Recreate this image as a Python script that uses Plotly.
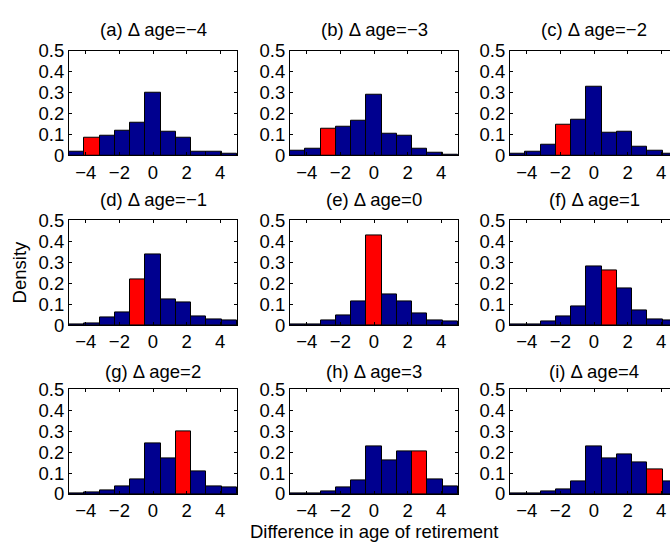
import plotly.graph_objects as go

W, H = 670, 554

# Difference in age of retirement (bin values)
diff_values = [-5, -4, -3, -2, -1, 0, 1, 2, 3, 4, 5]
delta_ages = [-4, -3, -2, -1, 0, 1, 2, 3, 4]
panel_letters = ["a", "b", "c", "d", "e", "f", "g", "h", "i"]

dens_a = [0.018, 0.082, 0.095, 0.118, 0.158, 0.300, 0.115, 0.085, 0.018, 0.018, 0.006]
dens_b = [0.022, 0.031, 0.128, 0.135, 0.165, 0.288, 0.105, 0.094, 0.031, 0.012, 0.005]
dens_c = [0.008, 0.017, 0.052, 0.148, 0.169, 0.326, 0.109, 0.112, 0.043, 0.020, 0.008]
dens_d = [0.005, 0.009, 0.035, 0.062, 0.219, 0.336, 0.122, 0.108, 0.043, 0.025, 0.020]
dens_e = [0.005, 0.005, 0.023, 0.048, 0.113, 0.430, 0.148, 0.113, 0.056, 0.022, 0.017]
dens_f = [0.003, 0.005, 0.015, 0.040, 0.088, 0.282, 0.262, 0.177, 0.070, 0.025, 0.020]
dens_g = [0.003, 0.008, 0.015, 0.035, 0.072, 0.241, 0.171, 0.299, 0.107, 0.034, 0.030]
dens_h = [0.002, 0.005, 0.012, 0.030, 0.067, 0.226, 0.159, 0.204, 0.203, 0.069, 0.035]
dens_i = [0.002, 0.003, 0.011, 0.024, 0.061, 0.226, 0.171, 0.190, 0.149, 0.116, 0.058]
densities = [dens_a, dens_b, dens_c, dens_d, dens_e, dens_f, dens_g, dens_h, dens_i]

x_ticks = [-4, -2, 0, 2, 4]
y_ticks = [0, 0.1, 0.2, 0.3, 0.4, 0.5]

BLUE = "#00008F"
RED = "#FF0000"
FONT = "Liberation Sans, Arial, Helvetica, sans-serif"
FS = 18.5

# histogram bins: 11 equal bins spanning [-5, 5]
nb = len(diff_values)
bw = 10.0 / nb
centers = [-5 + (k + 0.5) * bw for k in range(nb)]

# layout in pixels
col_left = [69, 290, 510]
panel_w = 168
row_top = [41.3, 217.7, 393.3]
panel_h = 108.7
title_y = [19, 196, 375]
units_per_px = 10.0 / panel_w

fig = go.Figure()
layout = dict(
    width=W, height=H, margin=dict(l=0, r=0, t=0, b=0),
    paper_bgcolor="white", plot_bgcolor="white",
    showlegend=False, font=dict(family=FONT, size=FS, color="black"),
    bargap=0,
)
annotations = []
for idx in range(9):
    r, c = divmod(idx, 3)
    n = idx + 1
    xa = "x" if n == 1 else f"x{n}"
    ya = "y" if n == 1 else f"y{n}"
    colors = [RED if v == delta_ages[idx] else BLUE for v in diff_values]
    fig.add_trace(go.Bar(
        x=centers, y=densities[idx], width=bw,
        marker=dict(color=colors, line=dict(color="black", width=1)),
        xaxis=xa, yaxis=ya, hoverinfo="skip",
    ))
    x0 = col_left[c] / W
    right_px = min(col_left[c] + panel_w, W)
    x1 = right_px / W
    xmax = -5 + (right_px - col_left[c]) * units_per_px
    y1 = 1 - row_top[r] / H
    y0 = 1 - (row_top[r] + panel_h) / H
    clipped = c == 2
    layout["xaxis" if n == 1 else f"xaxis{n}"] = dict(
        domain=[x0, x1], range=[-5, xmax], anchor=ya,
        tickvals=x_ticks, ticks="inside", ticklen=3, tickcolor="black",
        showline=True, linecolor="black", linewidth=1, mirror="ticks",
        showgrid=False, zeroline=False,
        tickfont=dict(family=FONT, size=FS, color="black"),
    )
    layout["yaxis" if n == 1 else f"yaxis{n}"] = dict(
        domain=[y0, y1], range=[0, 0.5], anchor=xa,
        tickvals=y_ticks, ticktext=["0", "0.1", "0.2", "0.3", "0.4", "0.5"],
        ticks="inside", ticklen=3, tickcolor="black",
        showline=True, linecolor="black", linewidth=1,
        mirror=False if clipped else "ticks",
        showgrid=False, zeroline=False,
        tickfont=dict(family=FONT, size=FS, color="black"),
    )
    cx = (col_left[c] + panel_w / 2) / W
    annotations.append(dict(
        text=f"({panel_letters[idx]}) \u0394 age={str(delta_ages[idx]).replace('-', '\u2212')}",
        x=cx, y=1 - title_y[r] / H, xref="paper", yref="paper",
        xanchor="center", yanchor="middle", showarrow=False,
        font=dict(family=FONT, size=FS, color="black"),
    ))

annotations.append(dict(
    text="Difference in age of retirement", x=374 / W, y=1 - 541 / H,
    xref="paper", yref="paper", xanchor="center", yanchor="middle",
    showarrow=False, font=dict(family=FONT, size=FS, color="black"),
))
annotations.append(dict(
    text="Density", x=19 / W, y=1 - 271.7 / H, textangle=-90,
    xref="paper", yref="paper", xanchor="center", yanchor="middle",
    showarrow=False, font=dict(family=FONT, size=FS, color="black"),
))
layout["annotations"] = annotations
fig.update_layout(**layout)
fig.write_html("out.html")
